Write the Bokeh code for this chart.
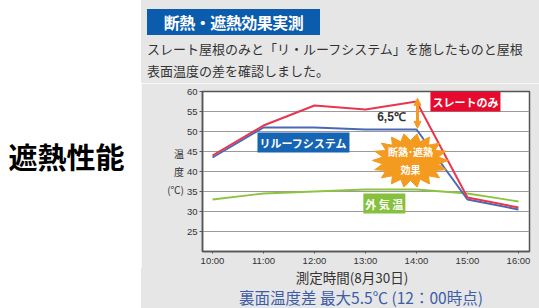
import numpy as np
from bokeh.plotting import figure
from bokeh.models import Label, FixedTicker, Arrow, NormalHead, Div
from bokeh.layouts import row, column
from bokeh.embed import file_html
from bokeh.resources import INLINE

# ---- data ----
times = ["10:00", "11:00", "12:00", "13:00", "14:00", "15:00", "16:00"]
hours = [10, 11, 12, 13, 14, 15, 16]
slate_only = [44.0, 51.5, 56.5, 55.5, 57.5, 33.5, 31.0]   # スレートのみ
reroof = [43.5, 51.0, 51.0, 50.5, 50.5, 33.0, 30.5]       # リルーフシステム
outside_air = [33.0, 34.5, 35.0, 35.5, 35.5, 34.5, 32.5]  # 外気温
y_ticks = [25, 30, 35, 40, 45, 50, 55, 60]

JP = "Noto Sans CJK JP"
PANEL = "#e6e6e6"
H = 308

# ---- left caption ----
left = figure(width=141, height=H, output_backend="svg", toolbar_location=None,
              x_range=(0, 1), y_range=(0, 1), min_border=0, margin=0)
left.axis.visible = False
left.grid.visible = False
left.outline_line_color = None
left.background_fill_color = "white"
left.border_fill_color = "white"
left.add_layout(Label(x=8, y=H - 155, x_units="screen", y_units="screen",
                      text="遮熱性能", text_font=JP, text_font_style="bold",
                      text_font_size="29px", text_color="black",
                      text_align="left", text_baseline="middle"))

# ---- header ----
header = Div(width=398, height=83, margin=0, text=f"""
<div style="width:398px;height:83px;background:{PANEL};padding:9px 0 0 6px;box-sizing:border-box;font-family:'{JP}';">
  <div style="width:173px;height:26px;line-height:26px;background:#0b5cad;color:#fff;font-weight:bold;font-size:16px;text-align:center;letter-spacing:-0.5px;">断熱・遮熱効果実測</div>
  <div style="margin-top:3px;font-size:13px;line-height:22px;color:#333;white-space:nowrap;">スレート屋根のみと「リ・ルーフシステム」を施したものと屋根<br>表面温度の差を確認しました。</div>
</div>""")

# ---- chart ----
p = figure(width=398, height=185, output_backend="svg", toolbar_location=None,
           x_range=(9.804, 16.216), y_range=(20, 60), margin=0,
           min_border_left=61, min_border_right=10,
           min_border_top=8, min_border_bottom=17)
p.border_fill_color = PANEL
p.background_fill_color = "white"
p.outline_line_color = "#555555"
p.outline_line_width = 1.5
p.xgrid.visible = False
p.ygrid.grid_line_color = "#9a9a9a"
p.ygrid.grid_line_width = 1.2

p.yaxis.ticker = FixedTicker(ticks=y_ticks)
p.xaxis.ticker = FixedTicker(ticks=hours)
p.xaxis.major_label_overrides = {h: t for h, t in zip(hours, times)}
for ax in (p.xaxis, p.yaxis):
    ax.axis_line_color = "#555555"
    ax.axis_line_width = 1.5
    ax.major_tick_line_color = "#555555"
    ax.major_tick_in = 0
    ax.major_tick_out = 3
    ax.minor_tick_line_color = None
    ax.major_label_text_font = "Liberation Sans"
    ax.major_label_text_font_size = "9.5px"
    ax.major_label_text_color = "#333333"
p.yaxis.major_label_standoff = 2
p.xaxis.major_tick_out = 2
p.xaxis.major_label_standoff = 1
p.yaxis.axis_label = "温\n度\n(℃)"
p.yaxis.axis_label_orientation = "horizontal"
p.yaxis.axis_label_text_font = JP
p.yaxis.axis_label_text_font_style = "normal"
p.yaxis.axis_label_text_font_size = "10px"
p.yaxis.axis_label_text_color = "#333333"
p.yaxis.axis_label_standoff = 0

p.line(hours, outside_air, line_color="#8cc43f", line_width=1.8)
p.line(hours, reroof, line_color="#4a68b3", line_width=2)
p.line(hours, slate_only, line_color="#e8364f", line_width=2)

# starburst decoration
cx, cy, rx, ry, n = 13.882, 42.75, 38 / 51, 27 / 4, 18
ang = np.linspace(0, 2 * np.pi, 2 * n, endpoint=False)
rr = np.where(np.arange(2 * n) % 2 == 0, 1.0, 0.74)
p.patch(cx + rx * rr * np.cos(ang), cy + ry * rr * np.sin(ang),
        fill_color="#f39a1f", line_color="#f39a1f")
p.add_layout(Label(x=cx, y=cy, text="断熱･遮熱\n効果", text_font=JP,
                   text_font_style="bold", text_font_size="10px", text_color="white",
                   text_align="center", text_baseline="middle", text_line_height=1.2))

# double arrow
p.add_layout(Arrow(start=NormalHead(size=7, fill_color="#f39a1f", line_color="#f39a1f"),
                   end=NormalHead(size=7, fill_color="#f39a1f", line_color="#f39a1f"),
                   x_start=14.02, y_start=50.8, x_end=14.02, y_end=58.3,
                   line_color="#f39a1f", line_width=3))
p.add_layout(Label(x=13.51, y=53.75, text="6,5℃", text_font="Liberation Sans",
                   text_font_style="bold", text_font_size="12px", text_color="#333333",
                   text_align="center", text_baseline="middle"))

# series tags
def tag(x, y, text, color):
    p.add_layout(Label(x=x, y=y, text=text, text_font=JP, text_font_style="bold",
                       text_font_size="11px", text_color="white",
                       background_fill_color=color, text_align="center",
                       text_baseline="middle", padding=2))

tag(14.96, 57.5, "スレートのみ", "#e60a2e")
tag(11.784, 47.25, "リルーフシステム", "#1565b4")
tag(13.37, 32.0, "外 気 温", "#86c13d")

# ---- footer ----
footer = Div(width=398, height=40, margin=0, text=f"""
<div style="position:relative;width:398px;height:40px;background:{PANEL};font-family:'{JP}';">
  <div style="position:absolute;left:61px;width:300px;top:1px;line-height:16px;text-align:center;font-size:13.5px;color:#333;">測定時間(8月30日)</div>
  <div style="position:absolute;left:20px;width:400px;top:19px;line-height:20px;text-align:center;font-size:15.5px;color:#3d5da8;white-space:nowrap;">裏面温度差 最大5.5℃ (12：00時点)</div>
</div>""")

layout = row(left, column(header, p, footer, spacing=0, margin=0), spacing=0, margin=0)
open("out.html", "w").write(file_html(layout, INLINE))
